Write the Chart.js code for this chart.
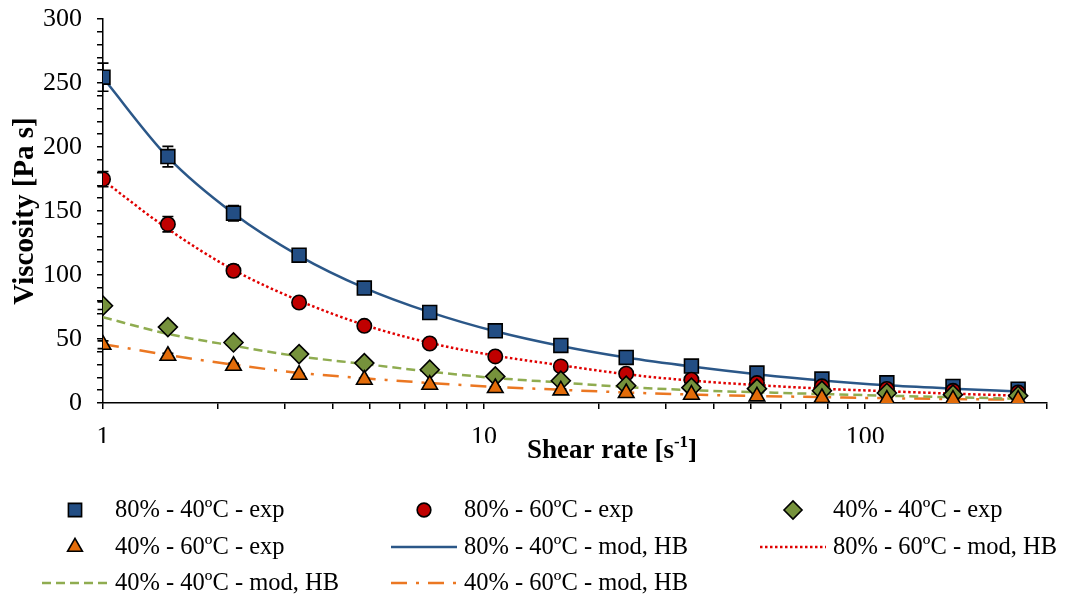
<!DOCTYPE html>
<html>
<head>
<meta charset="utf-8">
<script src="https://cdn.jsdelivr.net/npm/chart.js@4.4.0/dist/chart.umd.min.js"></script>
<style>
  html, body { margin: 0; padding: 0; background: #fff; }
  #wrap { width: 1065px; height: 598px; position: relative; }
</style>
</head>
<body>
<div id="wrap"><canvas id="viscosityChart"></canvas></div>
<script>
// shear rate [1/s]
const shearRate = [1, 1.48, 2.2, 3.27, 4.85, 7.2, 10.7, 15.9, 23.6, 35, 52, 77, 114, 170, 252];

// experimental viscosity [Pa s] and error bars
const exp80_40 = [254.5, 192.5, 148.3, 115.5, 89.8, 70.7, 56.4, 45, 35.6, 28.9, 23.4, 18.7, 15.8, 13, 10.8];
const err80_40 = [11, 8, 6, 3, 3, 2, 2, 2, 1, 1, 1, 1, 1, 1, 1];
const exp80_60 = [174.9, 139.7, 103.3, 78.5, 60.3, 46.5, 36.4, 28.6, 22.9, 18.2, 15.6, 13, 11, 9.5, 8.2];
const err80_60 = [6, 6, 4.5, 3, 2, 2, 2, 1, 1, 1, 1, 1, 1, 1, 1];
const exp40_40 = [76, 59.3, 47.3, 38.2, 31.2, 26, 20.8, 17.4, 13.5, 12, 11.2, 9.6, 7.8, 6.5, 5.7];
const err40_40 = [3, 2, 2, 2, 1, 1, 1, 1, 1, 1, 1, 1, 1, 1, 1];
const exp40_60 = [45.5, 36.9, 29.1, 22.1, 18.2, 14.3, 11.7, 9.9, 7.8, 6.5, 5.2, 3.9, 2.6, 2.6, 2.6];
const err40_60 = [3, 2, 2, 1, 1, 1, 1, 1, 1, 1, 1, 1, 1, 1, 1];

// Herschel-Bulkley model curves, read at the same shear rates
const mod80_40 = [254, 192, 148, 115, 90, 71, 56, 44.5, 35.5, 28.5, 22.5, 17.5, 13.8, 11.2, 9];
const mod80_60 = [174, 136, 104, 80, 61, 47, 37, 29.5, 22.5, 17.5, 14, 11.2, 9.2, 7.3, 5.7];
const mod40_40 = [67, 54, 44.7, 36.4, 30.5, 24.5, 19.5, 16, 12.5, 10, 8.4, 7, 5.7, 4.5, 3.3];
const mod40_60 = [46, 37.5, 30, 23.5, 19.3, 15.6, 12.6, 10.3, 8.2, 6.6, 5.5, 4.6, 3.7, 3.1, 2.6];

const xTickValues = [1, 2, 3, 4, 5, 6, 7, 8, 9, 10, 20, 30, 40, 50, 60, 70, 80, 90, 100, 200, 300];
const xTickLabels = [1, 10, 100];
const yTickLabels = [0, 50, 100, 150, 200, 250, 300];

const FONT = "'Liberation Serif', 'Times New Roman', serif";
Chart.defaults.font.family = FONT;
Chart.defaults.color = "#000";

const pts = (ys) => shearRate.map((x, i) => ({ x: x, y: ys[i] }));

function expSet(label, ys, errs, style, fill, radius, order) {
    return {
        label: label, data: pts(ys), errors: errs, showLine: false,
        pointStyle: style, pointRadius: radius, pointHoverRadius: radius,
        backgroundColor: fill, borderColor: "#000", pointBorderWidth: 1.6,
        order: order
    };
}

function modSet(label, ys, color, dash, order) {
    return {
        label: label, data: pts(ys), showLine: true, pointRadius: 0,
        borderColor: color, backgroundColor: color, borderWidth: 2.5,
        borderDash: dash, cubicInterpolationMode: "monotone", order: order
    };
}

const datasets = [
    expSet("80% - 40ºC - exp", exp80_40, err80_40, "rect", "#234E84", 9.8, 4),
    expSet("80% - 60ºC - exp", exp80_60, err80_60, "circle", "#C00000", 7.2, 3),
    expSet("40% - 40ºC - exp", exp40_40, err40_40, "rectRot", "#76923C", 9.5, 2),
    expSet("40% - 60ºC - exp", exp40_60, err40_60, "triangle", "#E36C09", 9, 1),
    modSet("80% - 40ºC - mod, HB", mod80_40, "#2B5788", [], 5),
    modSet("80% - 60ºC - mod, HB", mod80_60, "#E00000", [2.5, 2.5], 6),
    modSet("40% - 40ºC - mod, HB", mod40_40, "#8FAC50", [9, 5], 7),
    modSet("40% - 60ºC - mod, HB", mod40_60, "#EB7722", [16, 9, 3, 9], 8),
];

// error bars drawn under the markers
const errorBars = {
    id: "errorBars",
    beforeDatasetsDraw(chart) {
        const ctx = chart.ctx;
        const xs = chart.scales.x, ys = chart.scales.y;
        ctx.save();
        ctx.strokeStyle = "#000";
        ctx.lineWidth = 1.6;
        chart.data.datasets.forEach((ds) => {
            if (!ds.errors) return;
            ds.data.forEach((p, i) => {
                const e = ds.errors[i];
                const x = xs.getPixelForValue(p.x);
                const top = ys.getPixelForValue(p.y + e);
                const bot = ys.getPixelForValue(p.y - e);
                ctx.beginPath();
                ctx.moveTo(x, top); ctx.lineTo(x, bot);
                ctx.moveTo(x - 5.5, top); ctx.lineTo(x + 5.5, top);
                ctx.moveTo(x - 5.5, bot); ctx.lineTo(x + 5.5, bot);
                ctx.stroke();
            });
        });
        ctx.restore();
    }
};

// axis titles and legend
const legendCols = [75, 424, 793];
const legendRows = [510, 547, 583];

const extras = {
    id: "extras",
    afterDraw(chart) {
        const ctx = chart.ctx;
        const area = chart.chartArea;
        ctx.save();
        ctx.fillStyle = "#000";

        // y title
        ctx.font = "bold 29px " + FONT;
        ctx.textAlign = "center";
        ctx.textBaseline = "middle";
        ctx.save();
        ctx.translate(26, (area.top + area.bottom) / 2);
        ctx.rotate(-Math.PI / 2);
        ctx.fillText("Viscosity [Pa s]", 0, 0);
        ctx.restore();

        // x title with superscript
        const main = "Shear rate [s", sup = "-1", tail = "]";
        ctx.textAlign = "left";
        ctx.textBaseline = "alphabetic";
        ctx.font = "bold 27px " + FONT;
        const w1 = ctx.measureText(main).width, w3 = ctx.measureText(tail).width;
        ctx.font = "bold 17px " + FONT;
        const w2 = ctx.measureText(sup).width;
        let x = 612 - (w1 + w2 + w3) / 2;
        const base = 458;
        ctx.font = "bold 27px " + FONT;
        ctx.fillText(main, x, base);
        ctx.font = "bold 17px " + FONT;
        ctx.fillText(sup, x + w1, base - 11);
        ctx.font = "bold 27px " + FONT;
        ctx.fillText(tail, x + w1 + w2, base);

        // legend
        ctx.font = "24.5px " + FONT;
        ctx.textBaseline = "middle";
        chart.data.datasets.forEach((ds, i) => {
            const cx = legendCols[i % 3];
            const cy = legendRows[Math.floor(i / 3)];
            if (ds.showLine) {
                ctx.save();
                ctx.strokeStyle = ds.borderColor;
                ctx.lineWidth = ds.borderWidth;
                ctx.setLineDash(ds.borderDash);
                ctx.beginPath();
                ctx.moveTo(cx - 33, cy); ctx.lineTo(cx + 33, cy);
                ctx.stroke();
                ctx.restore();
            } else {
                ctx.save();
                ctx.fillStyle = ds.backgroundColor;
                ctx.strokeStyle = "#000";
                ctx.lineWidth = 1.6;
                Chart.helpers.drawPoint(ctx, { pointStyle: ds.pointStyle, radius: ds.pointRadius * 0.95, borderWidth: 1.6, rotation: 0 }, cx, cy);
                ctx.restore();
            }
            ctx.fillStyle = "#000";
            ctx.fillText(ds.label, cx + 40, cy + 1);
        });
        ctx.restore();
    }
};

new Chart(document.getElementById("viscosityChart"), {
    type: "scatter",
    data: { datasets: datasets },
    plugins: [errorBars, extras],
    options: {
        responsive: true,
        maintainAspectRatio: false,
        animation: false,
        layout: { padding: { left: 0, right: 18, top: 19, bottom: 155 } },
        plugins: { legend: { display: false }, tooltip: { enabled: false } },
        scales: {
            x: {
                type: "logarithmic", min: 1, max: 300,
                afterBuildTicks: (axis) => { axis.ticks = xTickValues.map(v => ({ value: v })); },
                afterFit: (axis) => { axis.height = 40; axis.paddingLeft = 0; axis.paddingRight = 0; },
                ticks: {
                    font: { size: 26 }, color: "#000", padding: 13, maxRotation: 0, autoSkip: false,
                    callback: (v) => xTickLabels.includes(v) ? String(v) : ""
                },
                grid: { drawOnChartArea: false, color: "#000", tickLength: 6, lineWidth: 1.5 },
                border: { color: "#000", width: 1.5 }
            },
            y: {
                min: 0, max: 300,
                afterFit: (axis) => { axis.width = 103; axis.paddingTop = 0; axis.paddingBottom = 0; },
                ticks: {
                    stepSize: 10, font: { size: 26 }, color: "#000", padding: 15, autoSkip: false,
                    callback: (v) => yTickLabels.includes(v) ? String(v) : ""
                },
                grid: { drawOnChartArea: false, color: "#000", tickLength: 6, lineWidth: 1.5 },
                border: { color: "#000", width: 1.5 }
            }
        }
    }
});
</script>
</body>
</html>
